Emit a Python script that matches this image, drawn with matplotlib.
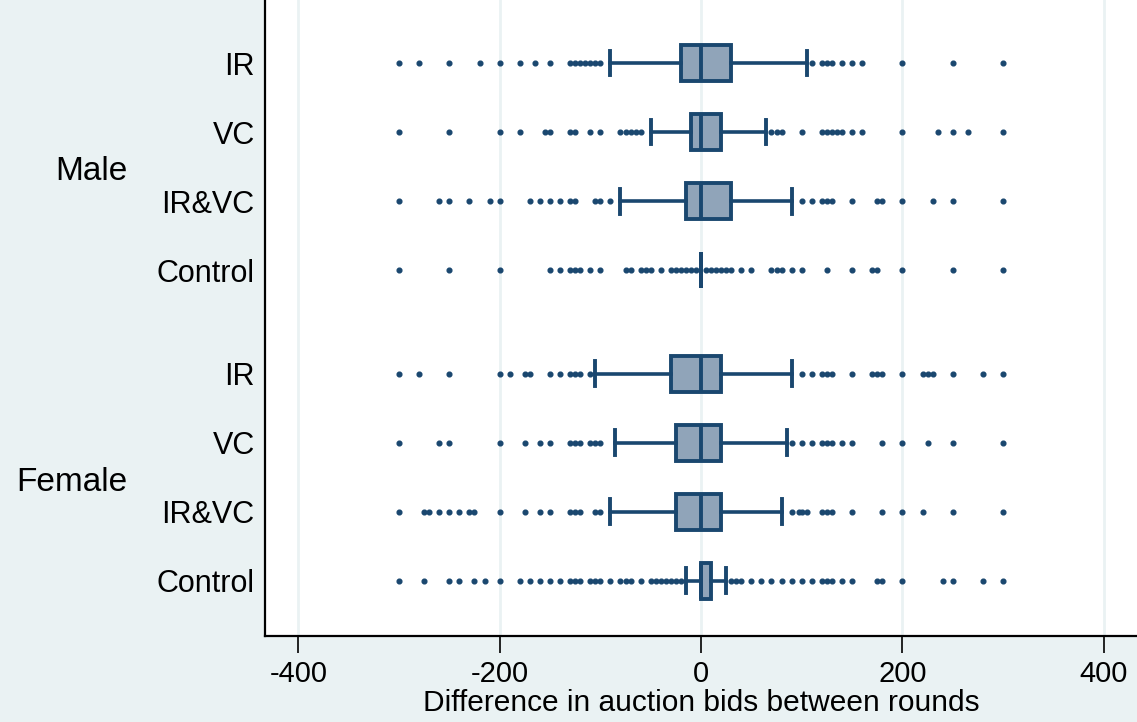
import numpy as np
import matplotlib.pyplot as plt
from matplotlib.transforms import blended_transform_factory

# Treatment groups, top to bottom (Male then Female)
treatments = ['IR', 'VC', 'IR&VC', 'Control']
genders = ['Male', 'Female']

# box statistics (Male IR, VC, IR&VC, Control, Female IR, VC, IR&VC, Control)
q1 = [-20, -10, -15, 0, -30, -25, -25, 0]
med = [0, 0, 0, 0, 0, 0, 0, 0]
q3 = [30, 20, 30, 0, 20, 20, 20, 10]
whis_lo = [-90, -50, -80, 0, -105, -85, -90, -15]
whis_hi = [105, 65, 90, 0, 90, 85, 80, 25]

outliers = [
    # Male IR
    [-300, -280, -250, -220, -200, -180, -165, -150, -130, -125, -120, -115, -110, -105, -100,
     110, 120, 125, 130, 140, 150, 160, 200, 250, 300],
    # Male VC
    [-300, -250, -200, -180, -155, -150, -130, -125, -110, -100, -80, -75, -70, -65, -60,
     70, 75, 80, 100, 120, 125, 130, 135, 140, 150, 160, 200, 235, 250, 265, 300],
    # Male IR&VC
    [-300, -260, -250, -230, -210, -200, -170, -160, -150, -140, -130, -125, -105, -100, -90,
     100, 110, 120, 125, 130, 150, 175, 180, 200, 230, 250, 300],
    # Male Control
    [-300, -250, -200, -150, -140, -130, -125, -120, -110, -100, -75, -70, -60, -55, -50, -40,
     -30, -25, -20, -15, -10, -5,
     5, 10, 15, 20, 25, 30, 40, 50, 70, 75, 80, 90, 100, 125, 150, 170, 175, 200, 250, 300],
    # Female IR
    [-300, -280, -250, -200, -190, -175, -170, -150, -140, -130, -125, -120, -110,
     100, 110, 120, 125, 130, 150, 170, 175, 180, 200, 220, 225, 230, 250, 280, 300],
    # Female VC
    [-300, -260, -250, -200, -175, -160, -150, -130, -125, -120, -110, -105, -100,
     90, 100, 110, 120, 125, 130, 140, 150, 180, 200, 225, 250, 300],
    # Female IR&VC
    [-300, -275, -270, -260, -250, -240, -230, -225, -200, -175, -160, -150, -130, -125, -120,
     -105, -100,
     90, 97, 100, 105, 120, 125, 130, 150, 180, 200, 220, 250, 300],
    # Female Control
    [-300, -275, -250, -240, -225, -215, -200, -180, -170, -160, -150, -140, -130, -125, -120,
     -110, -105, -100, -90, -80, -75, -70, -60, -50, -45, -40, -35, -30, -25, -20,
     30, 35, 40, 50, 60, 70, 80, 90, 100, 110, 120, 125, 130, 140, 150, 175, 180, 200, 240,
     250, 280, 300],
]

x_ticks = [-400, -200, 0, 200, 400]

navy = '#1a476f'
fill = '#90a4b9'
bg = '#eaf2f3'

positions = [0, 1, 2, 3, 4.5, 5.5, 6.5, 7.5]
labels = treatments * 2

stats = []
for i in range(len(positions)):
    stats.append(dict(q1=q1[i], med=med[i], q3=q3[i], whislo=whis_lo[i],
                      whishi=whis_hi[i], fliers=outliers[i]))

plt.rcParams['font.family'] = ['Liberation Sans', 'DejaVu Sans']

fig = plt.figure(figsize=(11.37, 7.22), dpi=100, facecolor=bg)
ax = fig.add_axes([0.2331, 0.1191, 0.7669, 0.8809])
ax.set_facecolor('white')

ax.bxp(stats, positions=positions, orientation='horizontal', widths=0.52,
       capwidths=0.36, patch_artist=True, manage_ticks=False,
       boxprops=dict(facecolor=fill, edgecolor=navy, linewidth=2.8),
       medianprops=dict(color=navy, linewidth=2.8),
       whiskerprops=dict(color=navy, linewidth=2.6),
       capprops=dict(color=navy, linewidth=2.8),
       flierprops=dict(marker='o', markersize=3.4, markerfacecolor=navy,
                       markeredgecolor=navy, linestyle='none'))

ax.set_xlim(-433, 433)
ax.set_ylim(8.30, -0.913)
ax.set_xticks(x_ticks)
ax.set_xticklabels([str(t) for t in x_ticks], fontsize=21)
ax.tick_params(axis='x', length=12, width=1.2, pad=5.4)
ax.set_yticks(positions)
ax.set_yticklabels(labels, fontsize=22)
ax.tick_params(axis='y', length=0, pad=7.5)

ax.grid(axis='x', color=bg, linewidth=2)
ax.set_axisbelow(True)
for side in ['top', 'right']:
    ax.spines[side].set_visible(False)
for side in ['left', 'bottom']:
    ax.spines[side].set_linewidth(1.6)

ax.set_xlabel('Difference in auction bids between rounds', fontsize=21.5, labelpad=0.7)

trans = blended_transform_factory(ax.transAxes, ax.transData)
ax.text(-0.158, 1.57, genders[0], transform=trans, ha='right', va='center', fontsize=24)
ax.text(-0.158, 6.07, genders[1], transform=trans, ha='right', va='center', fontsize=24)

fig.savefig('out.png', dpi=100, facecolor=bg)
